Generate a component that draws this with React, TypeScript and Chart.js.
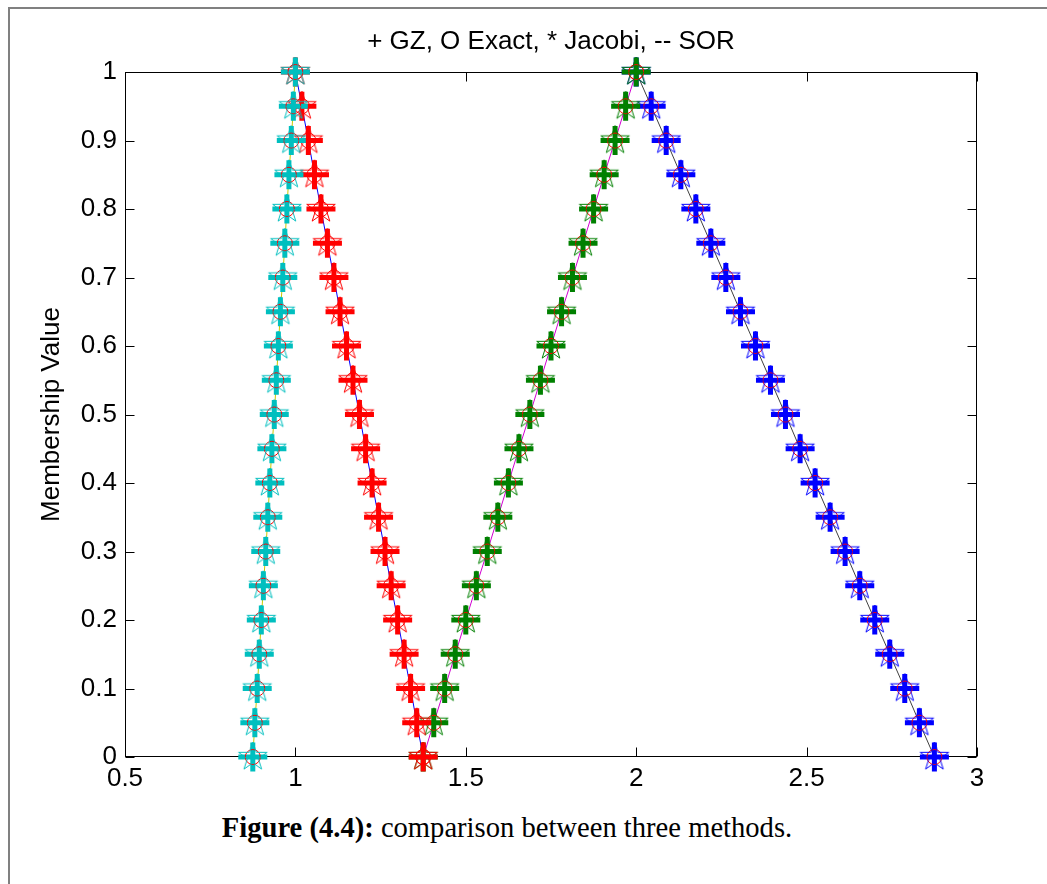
import React, { useEffect, useRef } from 'react';
import { Chart, registerables } from 'chart.js';

Chart.register(...registerables);

// Membership levels (alpha cuts) shared by every branch
const membership = [0, 0.05, 0.1, 0.15, 0.2, 0.25, 0.3, 0.35, 0.4, 0.45, 0.5, 0.55, 0.6, 0.65, 0.7, 0.75, 0.8, 0.85, 0.9, 0.95, 1];

// x values of the four branches (GZ, Exact, Jacobi and SOR coincide)
const branch1X = [0.875, 0.881, 0.888, 0.894, 0.9, 0.906, 0.913, 0.919, 0.925, 0.931, 0.938, 0.944, 0.95, 0.956, 0.963, 0.969, 0.975, 0.981, 0.988, 0.994, 1.0];
const branch2X = [1.375, 1.356, 1.338, 1.319, 1.3, 1.281, 1.263, 1.244, 1.225, 1.206, 1.188, 1.169, 1.15, 1.131, 1.113, 1.094, 1.075, 1.056, 1.038, 1.019, 1.0];
const branch3X = [1.375, 1.406, 1.438, 1.469, 1.5, 1.531, 1.563, 1.594, 1.625, 1.656, 1.688, 1.719, 1.75, 1.781, 1.813, 1.844, 1.875, 1.906, 1.938, 1.969, 2.0];
const branch4X = [2.875, 2.831, 2.788, 2.744, 2.7, 2.656, 2.613, 2.569, 2.525, 2.481, 2.438, 2.394, 2.35, 2.306, 2.263, 2.219, 2.175, 2.131, 2.088, 2.044, 2.0];

const xTicks = [0.5, 1, 1.5, 2, 2.5, 3];
const yTicks = [0, 0.1, 0.2, 0.3, 0.4, 0.5, 0.6, 0.7, 0.8, 0.9, 1];

const titleText = '+ GZ, O Exact, * Jacobi, -- SOR';
const yAxisLabel = 'Membership Value';

const FONT = "'Liberation Sans', Arial, sans-serif";
const FS = 26;

function makeStar(color: string): HTMLCanvasElement {
  const c = document.createElement('canvas');
  c.width = 34;
  c.height = 34;
  const ctx = c.getContext('2d')!;
  const R = 15;
  const r = 5.8;
  ctx.beginPath();
  for (let i = 0; i < 10; i++) {
    const a = -Math.PI / 2 + (i * Math.PI) / 5;
    const rad = i % 2 === 0 ? R : r;
    const x = 17 + rad * Math.cos(a);
    const y = 17 + rad * Math.sin(a);
    if (i === 0) ctx.moveTo(x, y);
    else ctx.lineTo(x, y);
  }
  ctx.closePath();
  ctx.strokeStyle = color;
  ctx.lineWidth = 1;
  ctx.stroke();
  return c;
}

const boxPlugin = {
  id: 'matlabBox',
  beforeDatasetsDraw(chart: any) {
    const { ctx, chartArea: a, scales } = chart;
    const L = Math.round(a.left) + 0.5;
    const R = Math.round(a.right) - 0.5;
    const T = Math.round(a.top) + 0.5;
    const B = Math.round(a.bottom) - 0.5;
    const tl = 9;
    ctx.save();
    ctx.strokeStyle = '#000';
    ctx.lineWidth = 1;
    ctx.strokeRect(L, T, R - L, B - T);
    ctx.beginPath();
    xTicks.forEach((v) => {
      const px = Math.round(scales.x.getPixelForValue(v)) + 0.5;
      ctx.moveTo(px, B);
      ctx.lineTo(px, B - tl);
      ctx.moveTo(px, T);
      ctx.lineTo(px, T + tl);
    });
    yTicks.forEach((v) => {
      const py = Math.round(scales.y.getPixelForValue(v)) + 0.5;
      ctx.moveTo(L, py);
      ctx.lineTo(L + tl, py);
      ctx.moveTo(R, py);
      ctx.lineTo(R - tl, py);
    });
    ctx.stroke();
    // title centred over the axes box
    ctx.fillStyle = '#000';
    ctx.font = `${FS}px ${FONT}`;
    ctx.textAlign = 'center';
    ctx.textBaseline = 'middle';
    ctx.fillText(titleText, (a.left + a.right) / 2, 42);
    ctx.restore();
  },
};

export default function App() {
  const ref = useRef<HTMLCanvasElement>(null);

  useEffect(() => {
    const groups = [
      { xs: branch1X, color: '#00BFBF', line: '#C8C800' },
      { xs: branch2X, color: '#FF0000', line: '#0000FF' },
      { xs: branch3X, color: '#008000', line: '#D000D0' },
      { xs: branch4X, color: '#0000FF', line: '#404040' },
    ];
    const datasets: any[] = [];
    groups.forEach((g, gi) => {
      const pts = g.xs.map((x, i) => ({ x, y: membership[i] }));
      const base = gi * 10;
      datasets.push({
        label: 'SOR',
        data: pts,
        showLine: true,
        borderColor: g.line,
        borderWidth: 1,
        pointRadius: 0,
        order: base + 3,
        clip: false,
      });
      datasets.push({
        label: 'GZ',
        data: pts,
        showLine: false,
        pointStyle: 'cross',
        pointRadius: 14.5,
        pointBorderWidth: 5,
        pointBorderColor: g.color,
        pointBackgroundColor: g.color,
        order: base + 2,
        clip: false,
      });
      datasets.push({
        label: 'Exact',
        data: pts,
        showLine: false,
        pointStyle: 'circle',
        pointRadius: 7.5,
        pointBorderWidth: 1,
        pointBorderColor: '#FF0000',
        pointBackgroundColor: 'rgba(0,0,0,0)',
        order: base + 1,
        clip: false,
      });
      datasets.push({
        label: 'Jacobi',
        data: pts,
        showLine: false,
        pointStyle: makeStar(g.color),
        pointRadius: 15,
        order: base,
        clip: false,
      });
    });

    const chart = new Chart(ref.current!, {
      type: 'scatter',
      data: { datasets },
      options: {
        animation: false,
        responsive: false,
        events: [],
        layout: { padding: { left: 0, right: 70, top: 72, bottom: 0 } },
        plugins: {
          legend: { display: false },
          tooltip: { enabled: false },
          title: { display: false },
        },
        scales: {
          x: {
            type: 'linear',
            min: 0.5,
            max: 3,
            afterBuildTicks: (s: any) => {
              s.ticks = xTicks.map((v) => ({ value: v }));
            },
            afterFit: (s: any) => {
              s.height = 43;
            },
            grid: { display: false, drawTicks: false },
            border: { display: false },
            ticks: {
              color: '#000',
              font: { family: FONT, size: FS },
              padding: 6.4,
              maxRotation: 0,
              callback: (v: any) => String(v),
            },
          },
          y: {
            type: 'linear',
            min: 0,
            max: 1,
            afterBuildTicks: (s: any) => {
              s.ticks = yTicks.map((v) => ({ value: v }));
            },
            afterFit: (s: any) => {
              s.width = 125;
            },
            grid: { display: false, drawTicks: false },
            border: { display: false },
            ticks: {
              color: '#000',
              font: { family: FONT, size: FS },
              padding: 8,
              callback: (v: any) => String(v),
            },
            title: {
              display: true,
              text: yAxisLabel,
              color: '#000',
              font: { family: FONT, size: FS },
              padding: { top: 36.4, bottom: 0 },
            },
          },
        },
      },
      plugins: [boxPlugin],
    } as any);
    return () => chart.destroy();
  }, []);

  return (
    <div style={{ position: 'absolute', left: 0, top: 0, width: 1047, height: 884, background: '#fff', overflow: 'hidden' }}>
      <div
        style={{
          position: 'absolute',
          left: 8,
          top: 7,
          width: 1047,
          height: 884,
          borderTop: '2px solid #808080',
          borderLeft: '2px solid #808080',
        }}
      />
      <canvas ref={ref} width={1047} height={800} style={{ position: 'absolute', left: 0, top: 0, width: 1047, height: 800 }} />
      <div
        style={{
          position: 'absolute',
          left: 0,
          top: 810,
          width: 1014,
          textAlign: 'center',
          fontFamily: "'Liberation Serif', 'Times New Roman', serif",
          fontSize: 28.6,
          lineHeight: '36px',
          color: '#000',
          whiteSpace: 'nowrap',
        }}
      >
        <b>Figure (4.4):</b> comparison between three methods.
      </div>
    </div>
  );
}
